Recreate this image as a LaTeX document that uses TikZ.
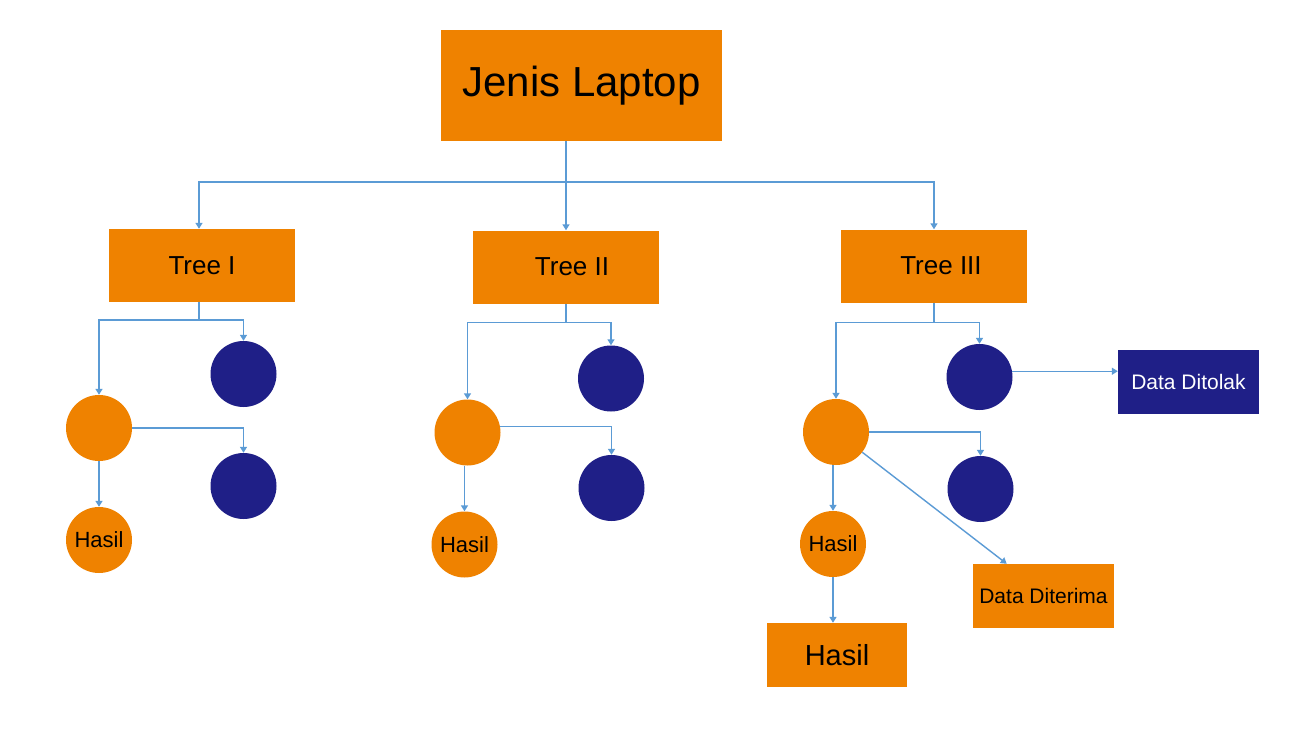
\documentclass[tikz,border=0pt]{standalone}
\usepackage{fontspec}
\setmainfont{Liberation Sans}
\usetikzlibrary{arrows.meta,calc}
\definecolor{orng}{RGB}{239,130,0}
\definecolor{navy}{RGB}{31,31,135}
\definecolor{conn}{RGB}{91,155,213}
\begin{document}
\begin{tikzpicture}[x=1pt,y=-1pt,
  box/.style={rectangle,fill=orng,inner sep=0pt,text=black},
  onode/.style={circle,fill=orng,minimum size=66pt,inner sep=0pt,text=black,font=\fontsize{22}{26}\selectfont},
  nnode/.style={circle,fill=navy,minimum size=66pt,inner sep=0pt},
  link/.style={draw=conn,line width=1.4pt},
  arr/.style={link,-{Triangle[width=7pt,length=6pt]}}]
\fill[white] (0,0) rectangle (1315,736);
\useasboundingbox (0,0) rectangle (1315,736);
% top
\node[box,minimum width=281pt,minimum height=111pt,font=\fontsize{42}{50}\selectfont] (root) at (581.5,85.5) {Jenis Laptop\hspace{4pt}};
\node[box,minimum width=186pt,minimum height=73pt,font=\fontsize{26}{31}\selectfont] (t1) at (202,265.5) {Tree I};
\node[box,minimum width=186pt,minimum height=73pt,font=\fontsize{26}{31}\selectfont] (t2) at (566,267) {\hspace{12pt}Tree II};
\node[box,minimum width=186pt,minimum height=73pt,font=\fontsize{26}{31}\selectfont] (t3) at (934,266) {\hspace{14pt}Tree III};
% tree I
\node[onode] (o1) at (99,428) {};
\node[nnode] (n11) at (243.5,374) {};
\node[nnode] (n12) at (243.5,486) {};
\node[onode] (h1) at (99,540) {Hasil};
% tree II
\node[onode] (o2) at (467.5,432.5) {};
\node[nnode] (n21) at (611,378.5) {};
\node[nnode] (n22) at (611.5,488) {};
\node[onode] (h2) at (464.5,544.5) {Hasil};
% tree III
\node[onode] (o3) at (836,432) {};
\node[nnode] (n31) at (979.5,377) {};
\node[nnode] (n32) at (980.5,489) {};
\node[onode] (h3) at (833,544) {Hasil};
\node[box,minimum width=140pt,minimum height=64pt,font=\fontsize{29}{34}\selectfont] (hb) at (837,655) {Hasil};
\node[rectangle,fill=navy,text=white,inner sep=0pt,minimum width=141pt,minimum height=64pt,font=\fontsize{21}{25}\selectfont] (dt) at (1188.5,382) {Data Ditolak};
\node[box,minimum width=141pt,minimum height=64pt,font=\fontsize{21}{25}\selectfont] (dd) at (1043.5,596) {Data Diterima};
% junctions
\coordinate (j0) at (566,182);
\coordinate (j1) at (199,320);
\coordinate (j2) at (566,322.5);
\coordinate (j3) at (934,322.5);
% connectors
\draw[link] (root.south -| j0) -- (j0);
\draw[arr] (j0) -| (t1.north -| j1);
\draw[arr] (j0) -- (t2.north);
\draw[arr] (j0) -| (t3.north);
\draw[link] (t1.south -| j1) -- (j1);
\draw[arr] (j1) -| (o1.north);
\draw[arr] (j1) -| (n11.north);
\draw[arr] (o1.east) -| (n12.north);
\draw[arr] (o1.south) -- (h1.north);
\draw[link] (t2.south) -- (j2);
\draw[arr] (j2) -| (o2.north);
\draw[arr] (j2) -| (n21.north);
\draw[arr] (o2.10) -| (n22.north);
\draw[arr] (o2.south -| h2) -- (h2.north);
\draw[link] (t3.south) -- (j3);
\draw[arr] (j3) -| (o3.north);
\draw[arr] (j3) -| (n31.north);
\draw[arr] (o3.east) -| (n32.north);
\draw[arr] (o3.south -| h3) -- (h3.north);
\draw[arr] (h3.south) -- (h3.south |- hb.north);
\draw[arr] (n31.10) -- (n31.10 -| dt.west);
\draw[arr] (o3) -- ($(dd.north west)!0.24!(dd.north east)$);
\end{tikzpicture}
\end{document}
